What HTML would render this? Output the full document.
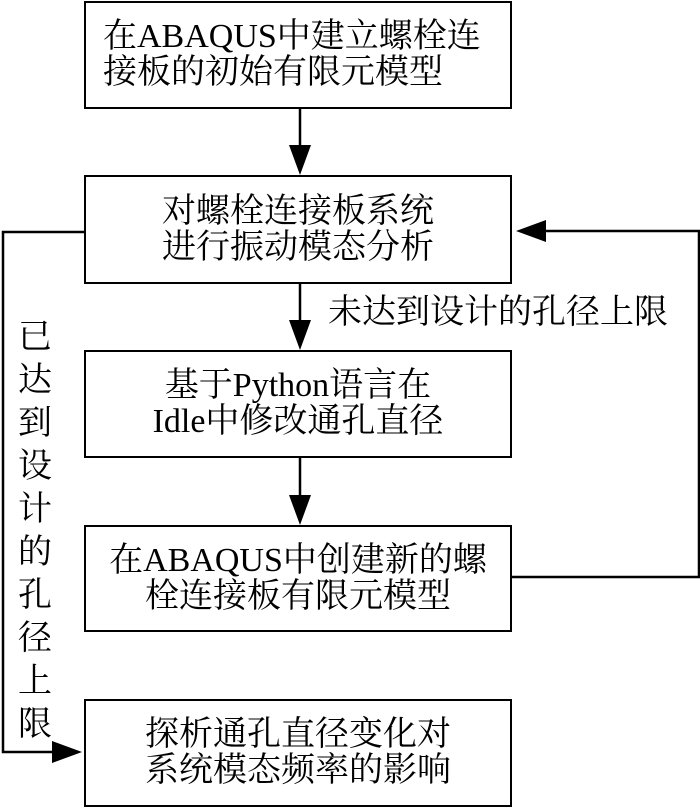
<!DOCTYPE html>
<html><head><meta charset="utf-8"><style>
body{margin:0;width:700px;height:807px;background:#fff;position:relative;overflow:hidden;font-family:"Liberation Serif","Noto Serif CJK SC",serif;color:#000}
.b{position:absolute;left:84px;width:428px;border:2.5px solid #000;box-sizing:border-box;font-size:34px;line-height:36px;display:flex;flex-direction:column;justify-content:center;align-items:center;text-align:center}
.t{position:absolute;font-size:34px;line-height:36px;white-space:nowrap}
</style></head><body>
<svg width="700" height="807" style="position:absolute;left:0;top:0">
<g stroke="#000" stroke-width="2.5" fill="none">
<line x1="300" y1="108" x2="300" y2="155"/>
<line x1="300" y1="283" x2="300" y2="330"/>
<line x1="300" y1="457" x2="300" y2="505"/>
<polyline points="84,232 3,232 3,752 60,752"/>
<polyline points="512,577 699,577 699,231 535,231"/>
</g>
<g fill="#000">
<polygon points="289,145 311,145 300,175"/>
<polygon points="289,320 311,320 300,350"/>
<polygon points="289,495 311,495 300,525"/>
<polygon points="52,741 52,763 82,752"/>
<polygon points="546,220 546,242 516,231"/>
</g>
</svg>
<div class="b" style="top:1px;height:108px;align-items:flex-start;padding-left:17px"><div>在ABAQUS中建立螺栓连</div><div>接板的初始有限元模型</div></div>
<div class="b" style="top:175px;height:109px"><div>对螺栓连接板系统</div><div>进行振动模态分析</div></div>
<div class="b" style="top:350px;height:108px"><div>基于Python语言在</div><div>Idle中修改通孔直径</div></div>
<div class="b" style="top:525px;height:107px"><div>在ABAQUS中创建新的螺</div><div>栓连接板有限元模型</div></div>
<div class="b" style="top:699px;height:108px"><div>探析通孔直径变化对</div><div>系统模态频率的影响</div></div>
<div class="t" style="left:328px;top:295px">未达到设计的孔径上限</div>
<div class="t" style="left:17px;top:316px;width:36px;white-space:normal;line-height:43px;text-align:center">已达到设计的孔径上限</div>
</body></html>
